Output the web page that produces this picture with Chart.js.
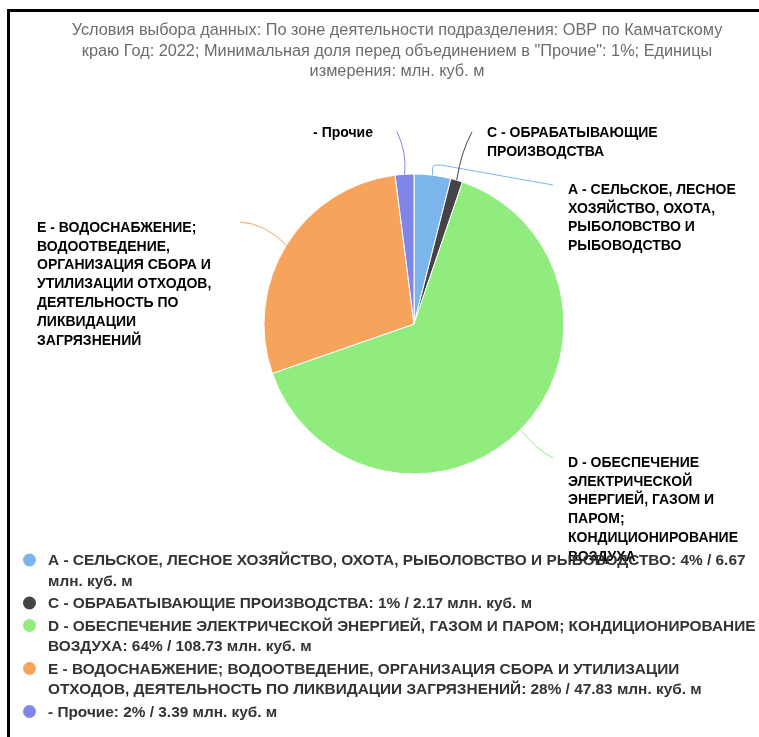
<!DOCTYPE html>
<html>
<head>
<meta charset="utf-8">
<script src="https://cdn.jsdelivr.net/npm/chart.js@4"></script>
<style>
  body { margin: 0; background: #fff; }
  #frame { position: absolute; left: 7px; top: 9px; width: 760px; height: 740px;
           border-left: 3px solid #000; border-top: 3px solid #000; }
  #chart { position: absolute; left: 0; top: 0; }
</style>
</head>
<body>
<div id="frame"></div>
<canvas id="chart" width="759" height="737"></canvas>
<script>
const titleLines = [
    'Условия выбора данных: По зоне деятельности подразделения: ОВР по Камчатскому',
    'краю Год: 2022; Минимальная доля перед объединением в "Прочие": 1%; Единицы',
    'измерения: млн. куб. м'
];

const categories = [
    'A - СЕЛЬСКОЕ, ЛЕСНОЕ ХОЗЯЙСТВО, ОХОТА, РЫБОЛОВСТВО И РЫБОВОДСТВО',
    'C - ОБРАБАТЫВАЮЩИЕ ПРОИЗВОДСТВА',
    'D - ОБЕСПЕЧЕНИЕ ЭЛЕКТРИЧЕСКОЙ ЭНЕРГИЕЙ, ГАЗОМ И ПАРОМ; КОНДИЦИОНИРОВАНИЕ ВОЗДУХА',
    'E - ВОДОСНАБЖЕНИЕ; ВОДООТВЕДЕНИЕ, ОРГАНИЗАЦИЯ СБОРА И УТИЛИЗАЦИИ ОТХОДОВ, ДЕЯТЕЛЬНОСТЬ ПО ЛИКВИДАЦИИ ЗАГРЯЗНЕНИЙ',
    '- Прочие'
];
const volumes = [6.67, 2.17, 108.73, 47.83, 3.39];
const shares = [4, 1, 64, 28, 2];
const unit = 'млн. куб. м';
const colors = ['#7cb5ec', '#434348', '#90ed7d', '#f7a35c', '#8085e9'];

// where each slice label sits and where its connector ends
const labelLayout = [
    { x: 568, y: 190, align: 'left', width: 182, end: [553, 185], elbow: true },
    { x: 487, y: 133, align: 'left', width: 182, end: [472, 132], ctrl: [461, 152] },
    { x: 568, y: 463, align: 'left', width: 182, end: [553, 458], ctrl: [536, 449] },
    { x: 37, y: 228, align: 'left', width: 190, end: [240, 222], ctrl: [264, 223] },
    { x: 373, y: 133, align: 'right', width: 120, end: [397, 132], ctrl: [407, 152] }
];

function wrapText(ctx, text, maxWidth) {
    const words = text.split(' ');
    const lines = [];
    let line = '';
    words.forEach(w => {
        const test = line ? line + ' ' + w : w;
        if (line && ctx.measureText(test).width > maxWidth) {
            lines.push(line);
            line = w;
        } else {
            line = test;
        }
    });
    if (line) lines.push(line);
    return lines;
}

const titlePlugin = {
    id: 'topTitle',
    afterDraw(chart) {
        const ctx = chart.ctx;
        ctx.save();
        ctx.font = '16.3px "Liberation Sans", Arial, sans-serif';
        ctx.fillStyle = '#6c6c6c';
        ctx.textAlign = 'center';
        ctx.textBaseline = 'middle';
        titleLines.forEach((t, i) => ctx.fillText(t, 397, 31 + i * 20.5));
        ctx.restore();
    }
};

const sliceLabels = {
    id: 'sliceLabels',
    afterDatasetsDraw(chart) {
        const ctx = chart.ctx;
        const meta = chart.getDatasetMeta(0);
        ctx.save();
        meta.data.forEach((arc, i) => {
            const p = arc.getProps(['x', 'y', 'startAngle', 'endAngle', 'outerRadius'], true);
            const mid = (p.startAngle + p.endAngle) / 2;
            const ex = p.x + p.outerRadius * Math.cos(mid);
            const ey = p.y + p.outerRadius * Math.sin(mid);
            const lay = labelLayout[i];

            // connector
            ctx.strokeStyle = colors[i];
            ctx.lineWidth = 1;
            ctx.beginPath();
            ctx.moveTo(ex, ey);
            if (lay.elbow) {
                ctx.lineTo(ex, ey - 7);
                ctx.quadraticCurveTo(ex, ey - 10, ex + 4, ey - 10);
                ctx.lineTo(ex + 9, ey - 10);
                ctx.lineTo(lay.end[0], lay.end[1]);
            } else {
                ctx.quadraticCurveTo(lay.ctrl[0], lay.ctrl[1], lay.end[0], lay.end[1]);
            }
            ctx.stroke();

            // label text
            ctx.font = 'bold 14px "Liberation Sans", Arial, sans-serif';
            ctx.textAlign = lay.align;
            ctx.textBaseline = 'middle';
            ctx.lineJoin = 'round';
            const lines = wrapText(ctx, categories[i], lay.width);
            lines.forEach((l, k) => {
                const ly = lay.y + k * 18.8;
                ctx.strokeStyle = '#fff';
                ctx.lineWidth = 2;
                ctx.strokeText(l, lay.x, ly);
                ctx.fillStyle = '#000';
                ctx.fillText(l, lay.x, ly);
            });
        });
        ctx.restore();
    }
};

const legendPlugin = {
    id: 'bottomLegend',
    afterDraw(chart) {
        const ctx = chart.ctx;
        ctx.save();
        ctx.font = 'bold 15.4px "Liberation Sans", Arial, sans-serif';
        ctx.textBaseline = 'middle';
        ctx.textAlign = 'left';
        let y = 561;
        categories.forEach((name, i) => {
            const text = name + ': ' + shares[i] + '% / ' + volumes[i] + ' ' + unit;
            ctx.fillStyle = colors[i];
            ctx.beginPath();
            ctx.arc(29.5, y - 1, 6.5, 0, Math.PI * 2);
            ctx.fill();
            ctx.fillStyle = '#333333';
            const lines = wrapText(ctx, text, 712);
            lines.forEach((l, k) => ctx.fillText(l, 48, y + k * 20.5));
            y += (lines.length - 1) * 20.5 + 22.5;
        });
        ctx.restore();
    }
};

const ctx = document.getElementById('chart').getContext('2d');
const volumeChart = new Chart(ctx, {
    type: 'pie',
    data: {
        labels: categories,
        datasets: [{
            data: volumes,
            backgroundColor: colors,
            borderColor: '#ffffff',
            borderWidth: 1,
            radius: 150
        }]
    },
    options: {
        responsive: false,
        animation: false,
        layout: {
            padding: { left: 79, right: 10, top: 10, bottom: 99 }
        },
        plugins: {
            legend: { display: false },
            tooltip: { enabled: false }
        }
    },
    plugins: [titlePlugin, sliceLabels, legendPlugin]
});
</script>
</body>
</html>
